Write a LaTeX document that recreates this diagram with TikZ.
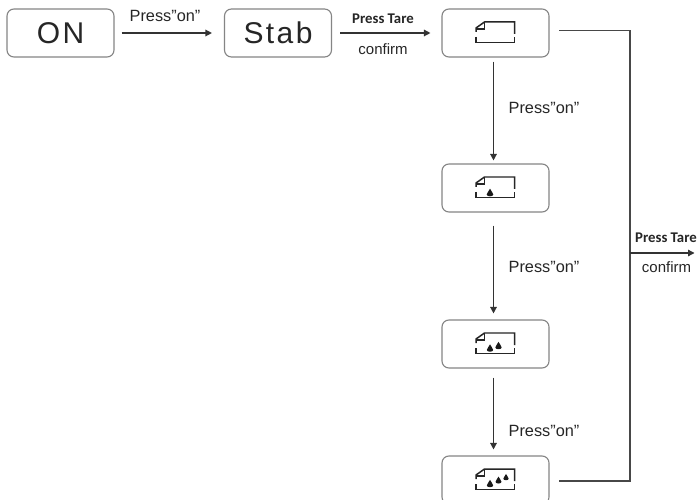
\documentclass[tikz,border=0pt]{standalone}
\usepackage{fontspec}
\setmainfont{Liberation Sans}
\newfontfamily\carl{Carlito}
\usetikzlibrary{arrows.meta}
\tikzset{
  statebox/.style={draw=black!48,line width=1.1pt,rounded corners=7pt,minimum width=107bp,minimum height=48bp,inner sep=0pt,font=\fontsize{30bp}{32bp}\selectfont\addfontfeature{LetterSpace=8},text=black!85},
  flow/.style={draw=black!80,line width=1.3pt,-{Triangle[length=6.5bp,width=6.5bp]}},
  wire/.style={draw=black!72,line width=2pt},
  lab/.style={font=\fontsize{16.3bp}{18bp}\selectfont,text=black!85,inner sep=0pt},
  sublab/.style={font=\fontsize{15bp}{17bp}\selectfont,text=black!85,inner sep=0pt},
  boldlab/.style={font=\carl\bfseries\fontsize{14.8bp}{16bp}\selectfont,text=black!85,inner sep=0pt},
  iconline/.style={draw=black!85,line width=1.5pt},
  pics/card/.style={code={
    \draw[iconline] (-19.5,-1) -- (-19.5,-5) -- (-11,-11) -- (19,-11) -- (19,1);
    \draw[iconline] (-19.5,-4) -- (-11,-4) -- (-11,-11);
    \draw[iconline] (-19.5,4) -- (-19.5,9.5) -- (19,9.5) -- (19,4);
  }},
  pics/drop/.style={code={
    \fill[black!90] (0,-1.3*#1) .. controls (0.4*#1,-0.4*#1) and (#1,0) .. (#1,0.45*#1) .. controls (#1,1.2*#1) and (-#1,1.2*#1) .. (-#1,0.45*#1) .. controls (-#1,0) and (-0.4*#1,-0.4*#1) .. (0,-1.3*#1) -- cycle;
  }}
}
\begin{document}
\begin{tikzpicture}[x=1bp,y=-1bp]
\useasboundingbox (0,0) rectangle (700,500);
\clip (0,0) rectangle (700,500);
\fill[white] (0,0) rectangle (700,500);
\node[statebox] (on) at (60.5,33) {ON};
\node[statebox] (stab) at (278,33) {Stab};
\node[statebox] (c) at (495.5,33) {};
\node[statebox] (d) at (495.5,188) {};
\node[statebox] (e) at (495.5,344) {};
\node[statebox] (f) at (495.5,480) {};
\pic at (c) {card};
\pic at (d) {card};
\pic at (e) {card};
\pic at (f) {card};
\pic at (490,193) {drop=3.3};
\pic at (490,348.5) {drop=3.2};
\pic at (498.5,346) {drop=3.2};
\pic at (490,484) {drop=3.2};
\pic at (498.5,480.5) {drop=3};
\pic at (506,477.5) {drop=2.7};
\draw[flow,shorten <=7bp,shorten >=12bp] (on.east) -- (stab.west);
\draw[flow,shorten <=8bp,shorten >=11bp] (stab.east) -- (c.west);
\draw[flow,shorten <=4bp,shorten >=3bp] ([xshift=-2bp]c.south) -- ([xshift=-2bp]d.north);
\draw[flow,shorten <=13bp,shorten >=6bp] ([xshift=-2bp]d.south) -- ([xshift=-2bp]e.north);
\draw[flow,shorten <=9bp,shorten >=6bp] ([xshift=-2bp]e.south) -- ([xshift=-2bp]f.north);
\coordinate (cw) at (559,30.5);
\coordinate (jt) at (629.5,30.5);
\coordinate (jb) at (629.5,481);
\coordinate (fw) at (558.5,481);
\coordinate (jm) at (629.5,253);
\coordinate (out) at (694.5,253);
\draw[wire,line join=miter] (cw) -- (jt) -- (jb) -- (fw);
\draw[flow] (jm) -- (out);
\node[lab] (l1) at (165,16) {Press”on”};
\node[boldlab] (l2) at (383,19) {Press Tare};
\node[sublab] (l3) at (383,49) {confirm};
\node[lab] (l4) at (544,108) {Press”on”};
\node[lab] (l5) at (544,266.5) {Press”on”};
\node[lab] (l6) at (544,431) {Press”on”};
\node[boldlab] (l7) at (666,238) {Press Tare};
\node[sublab] (l8) at (666.5,267) {confirm};
\end{tikzpicture}
\end{document}
